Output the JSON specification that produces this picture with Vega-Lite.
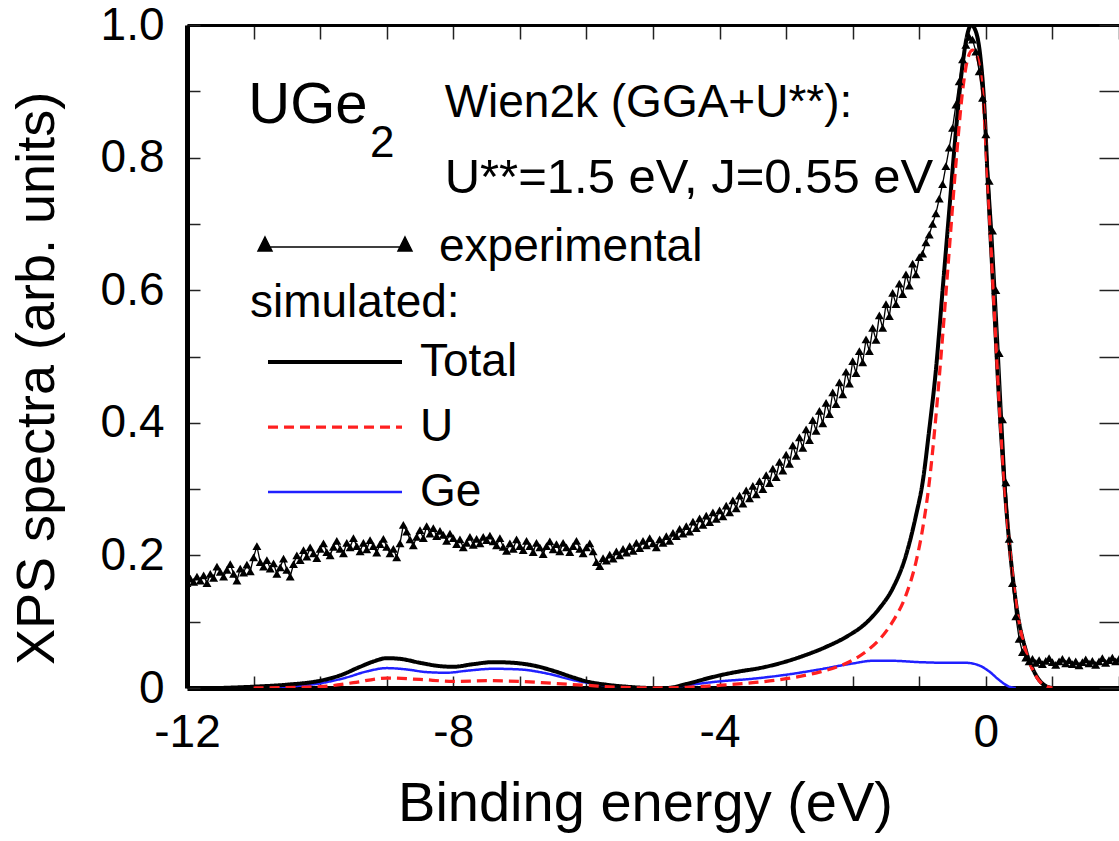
{
  "$schema": "https://vega.github.io/schema/vega-lite/v6.json",
  "autosize": {"type": "none"},
  "padding": {"left": 187, "top": 25, "right": 0, "bottom": 153},
  "width": 932,
  "height": 663,
  "background": "white",
  "config": {
    "view": {"stroke": null},
    "font": "Liberation Sans",
    "axis": {"grid": false, "labelFont": "Liberation Sans", "titleFont": "Liberation Sans", "labelColor": "black", "titleColor": "black", "titleFontWeight": "normal", "labelFlush": false, "labelOverlap": false, "domainColor": "black", "tickColor": "#222"}
  },
  "datasets": {
    "exp": [
      {"E":-12.00,"I":0.158},{"E":-11.95,"I":0.165},{"E":-11.90,"I":0.160},{"E":-11.85,"I":0.168},{"E":-11.80,"I":0.162},{"E":-11.75,"I":0.170},{"E":-11.70,"I":0.158},{"E":-11.65,"I":0.172},{"E":-11.60,"I":0.166},{"E":-11.55,"I":0.183},
      {"E":-11.50,"I":0.175},{"E":-11.45,"I":0.168},{"E":-11.40,"I":0.178},{"E":-11.35,"I":0.187},{"E":-11.30,"I":0.172},{"E":-11.25,"I":0.162},{"E":-11.20,"I":0.180},{"E":-11.15,"I":0.174},{"E":-11.10,"I":0.186},{"E":-11.05,"I":0.176},
      {"E":-11.00,"I":0.197},{"E":-10.95,"I":0.214},{"E":-10.90,"I":0.190},{"E":-10.85,"I":0.183},{"E":-10.80,"I":0.193},{"E":-10.75,"I":0.180},{"E":-10.70,"I":0.188},{"E":-10.65,"I":0.172},{"E":-10.60,"I":0.182},{"E":-10.55,"I":0.195},
      {"E":-10.50,"I":0.178},{"E":-10.45,"I":0.168},{"E":-10.40,"I":0.187},{"E":-10.35,"I":0.200},{"E":-10.30,"I":0.193},{"E":-10.25,"I":0.208},{"E":-10.20,"I":0.198},{"E":-10.15,"I":0.212},{"E":-10.10,"I":0.203},{"E":-10.05,"I":0.196},
      {"E":-10.00,"I":0.210},{"E":-9.95,"I":0.218},{"E":-9.90,"I":0.205},{"E":-9.85,"I":0.200},{"E":-9.80,"I":0.213},{"E":-9.75,"I":0.222},{"E":-9.70,"I":0.210},{"E":-9.65,"I":0.203},{"E":-9.60,"I":0.219},{"E":-9.55,"I":0.212},
      {"E":-9.50,"I":0.226},{"E":-9.45,"I":0.214},{"E":-9.40,"I":0.206},{"E":-9.35,"I":0.219},{"E":-9.30,"I":0.209},{"E":-9.25,"I":0.223},{"E":-9.20,"I":0.214},{"E":-9.15,"I":0.204},{"E":-9.10,"I":0.217},{"E":-9.05,"I":0.225},
      {"E":-9.00,"I":0.213},{"E":-8.95,"I":0.203},{"E":-8.90,"I":0.210},{"E":-8.85,"I":0.197},{"E":-8.80,"I":0.218},{"E":-8.75,"I":0.246},{"E":-8.70,"I":0.236},{"E":-8.65,"I":0.224},{"E":-8.60,"I":0.215},{"E":-8.55,"I":0.228},
      {"E":-8.50,"I":0.238},{"E":-8.45,"I":0.226},{"E":-8.40,"I":0.244},{"E":-8.35,"I":0.233},{"E":-8.30,"I":0.241},{"E":-8.25,"I":0.229},{"E":-8.20,"I":0.237},{"E":-8.15,"I":0.231},{"E":-8.10,"I":0.222},{"E":-8.05,"I":0.233},
      {"E":-8.00,"I":0.226},{"E":-7.95,"I":0.217},{"E":-7.90,"I":0.224},{"E":-7.85,"I":0.212},{"E":-7.80,"I":0.219},{"E":-7.75,"I":0.228},{"E":-7.70,"I":0.216},{"E":-7.65,"I":0.225},{"E":-7.60,"I":0.218},{"E":-7.55,"I":0.228},
      {"E":-7.50,"I":0.223},{"E":-7.45,"I":0.230},{"E":-7.40,"I":0.221},{"E":-7.35,"I":0.215},{"E":-7.30,"I":0.226},{"E":-7.25,"I":0.213},{"E":-7.20,"I":0.207},{"E":-7.15,"I":0.218},{"E":-7.10,"I":0.210},{"E":-7.05,"I":0.224},
      {"E":-7.00,"I":0.214},{"E":-6.95,"I":0.208},{"E":-6.90,"I":0.222},{"E":-6.85,"I":0.214},{"E":-6.80,"I":0.205},{"E":-6.75,"I":0.219},{"E":-6.70,"I":0.212},{"E":-6.65,"I":0.202},{"E":-6.60,"I":0.214},{"E":-6.55,"I":0.221},
      {"E":-6.50,"I":0.209},{"E":-6.45,"I":0.217},{"E":-6.40,"I":0.206},{"E":-6.35,"I":0.219},{"E":-6.30,"I":0.212},{"E":-6.25,"I":0.205},{"E":-6.20,"I":0.214},{"E":-6.15,"I":0.222},{"E":-6.10,"I":0.210},{"E":-6.05,"I":0.203},
      {"E":-6.00,"I":0.212},{"E":-5.95,"I":0.218},{"E":-5.90,"I":0.206},{"E":-5.85,"I":0.190},{"E":-5.80,"I":0.184},{"E":-5.75,"I":0.196},{"E":-5.70,"I":0.192},{"E":-5.65,"I":0.201},{"E":-5.60,"I":0.195},{"E":-5.55,"I":0.206},
      {"E":-5.50,"I":0.200},{"E":-5.45,"I":0.210},{"E":-5.40,"I":0.204},{"E":-5.35,"I":0.214},{"E":-5.30,"I":0.207},{"E":-5.25,"I":0.219},{"E":-5.20,"I":0.211},{"E":-5.15,"I":0.222},{"E":-5.10,"I":0.215},{"E":-5.05,"I":0.226},
      {"E":-5.00,"I":0.218},{"E":-4.95,"I":0.212},{"E":-4.90,"I":0.224},{"E":-4.85,"I":0.219},{"E":-4.80,"I":0.229},{"E":-4.75,"I":0.222},{"E":-4.70,"I":0.234},{"E":-4.65,"I":0.229},{"E":-4.60,"I":0.240},{"E":-4.55,"I":0.233},
      {"E":-4.50,"I":0.244},{"E":-4.45,"I":0.236},{"E":-4.40,"I":0.251},{"E":-4.35,"I":0.241},{"E":-4.30,"I":0.256},{"E":-4.25,"I":0.246},{"E":-4.20,"I":0.260},{"E":-4.15,"I":0.250},{"E":-4.10,"I":0.265},{"E":-4.05,"I":0.255},
      {"E":-4.00,"I":0.268},{"E":-3.95,"I":0.259},{"E":-3.90,"I":0.275},{"E":-3.85,"I":0.265},{"E":-3.80,"I":0.283},{"E":-3.75,"I":0.271},{"E":-3.70,"I":0.290},{"E":-3.65,"I":0.278},{"E":-3.60,"I":0.298},{"E":-3.55,"I":0.286},
      {"E":-3.50,"I":0.305},{"E":-3.45,"I":0.292},{"E":-3.40,"I":0.312},{"E":-3.35,"I":0.300},{"E":-3.30,"I":0.321},{"E":-3.25,"I":0.309},{"E":-3.20,"I":0.331},{"E":-3.15,"I":0.318},{"E":-3.10,"I":0.341},{"E":-3.05,"I":0.328},
      {"E":-3.00,"I":0.352},{"E":-2.95,"I":0.338},{"E":-2.90,"I":0.366},{"E":-2.85,"I":0.350},{"E":-2.80,"I":0.378},{"E":-2.75,"I":0.362},{"E":-2.70,"I":0.390},{"E":-2.65,"I":0.374},{"E":-2.60,"I":0.404},{"E":-2.55,"I":0.388},
      {"E":-2.50,"I":0.418},{"E":-2.45,"I":0.399},{"E":-2.40,"I":0.430},{"E":-2.35,"I":0.413},{"E":-2.30,"I":0.446},{"E":-2.25,"I":0.428},{"E":-2.20,"I":0.461},{"E":-2.15,"I":0.443},{"E":-2.10,"I":0.477},{"E":-2.05,"I":0.459},
      {"E":-2.00,"I":0.493},{"E":-1.95,"I":0.475},{"E":-1.90,"I":0.508},{"E":-1.85,"I":0.491},{"E":-1.80,"I":0.526},{"E":-1.75,"I":0.508},{"E":-1.70,"I":0.543},{"E":-1.65,"I":0.525},{"E":-1.60,"I":0.562},{"E":-1.55,"I":0.543},
      {"E":-1.50,"I":0.579},{"E":-1.45,"I":0.561},{"E":-1.40,"I":0.596},{"E":-1.35,"I":0.579},{"E":-1.30,"I":0.610},{"E":-1.25,"I":0.594},{"E":-1.20,"I":0.624},{"E":-1.15,"I":0.607},{"E":-1.10,"I":0.640},{"E":-1.05,"I":0.624},
      {"E":-1.00,"I":0.650},{"E":-0.95,"I":0.655},{"E":-0.90,"I":0.672},{"E":-0.85,"I":0.684},{"E":-0.80,"I":0.700},{"E":-0.75,"I":0.716},{"E":-0.70,"I":0.738},{"E":-0.65,"I":0.760},{"E":-0.60,"I":0.787},{"E":-0.55,"I":0.815},
      {"E":-0.50,"I":0.845},{"E":-0.45,"I":0.880},{"E":-0.40,"I":0.915},{"E":-0.35,"I":0.948},{"E":-0.30,"I":0.970},{"E":-0.25,"I":0.982},{"E":-0.20,"I":0.978},{"E":-0.15,"I":0.960},{"E":-0.10,"I":0.930},{"E":-0.05,"I":0.890},
      {"E":0.00,"I":0.835},{"E":0.05,"I":0.765},{"E":0.10,"I":0.690},{"E":0.15,"I":0.600},{"E":0.20,"I":0.505},{"E":0.25,"I":0.405},{"E":0.30,"I":0.310},{"E":0.35,"I":0.225},{"E":0.40,"I":0.158},{"E":0.45,"I":0.108},
      {"E":0.50,"I":0.074},{"E":0.55,"I":0.054},{"E":0.60,"I":0.046},{"E":0.65,"I":0.040},{"E":0.70,"I":0.044},{"E":0.75,"I":0.038},{"E":0.80,"I":0.042},{"E":0.85,"I":0.036},{"E":0.90,"I":0.041},{"E":0.95,"I":0.045},
      {"E":1.00,"I":0.039},{"E":1.05,"I":0.035},{"E":1.10,"I":0.040},{"E":1.15,"I":0.044},{"E":1.20,"I":0.037},{"E":1.25,"I":0.042},{"E":1.30,"I":0.036},{"E":1.35,"I":0.040},{"E":1.40,"I":0.034},{"E":1.45,"I":0.039},
      {"E":1.50,"I":0.043},{"E":1.55,"I":0.037},{"E":1.60,"I":0.041},{"E":1.65,"I":0.035},{"E":1.70,"I":0.040},{"E":1.75,"I":0.045},{"E":1.80,"I":0.038},{"E":1.85,"I":0.042},{"E":1.90,"I":0.046},{"E":1.95,"I":0.040},{"E":2.00,"I":0.044}
    ],
    "sim": [
      {"series":"Ge","E":-11,"I":0},{"series":"Ge","E":-10.5,"I":0.002},{"series":"Ge","E":-10,"I":0.007},{"series":"Ge","E":-9.6,"I":0.016},{"series":"Ge","E":-9.3,"I":0.025},{"series":"Ge","E":-9.0,"I":0.030},{"series":"Ge","E":-8.7,"I":0.028},{"series":"Ge","E":-8.4,"I":0.024},{"series":"Ge","E":-8.1,"I":0.023},{"series":"Ge","E":-7.8,"I":0.026},{"series":"Ge","E":-7.4,"I":0.029},{"series":"Ge","E":-7.0,"I":0.028},{"series":"Ge","E":-6.6,"I":0.022},{"series":"Ge","E":-6.2,"I":0.012},{"series":"Ge","E":-5.8,"I":0.005},{"series":"Ge","E":-5.4,"I":0.001},{"series":"Ge","E":-5,"I":0},{"series":"Ge","E":-4.8,"I":0},{"series":"Ge","E":-4.5,"I":0.004},{"series":"Ge","E":-4,"I":0.010},{"series":"Ge","E":-3.5,"I":0.014},{"series":"Ge","E":-3.0,"I":0.020},{"series":"Ge","E":-2.5,"I":0.028},{"series":"Ge","E":-2.0,"I":0.037},{"series":"Ge","E":-1.7,"I":0.041},{"series":"Ge","E":-1.4,"I":0.041},{"series":"Ge","E":-1.0,"I":0.039},{"series":"Ge","E":-0.6,"I":0.038},{"series":"Ge","E":-0.3,"I":0.038},{"series":"Ge","E":-0.1,"I":0.034},{"series":"Ge","E":0.05,"I":0.025},{"series":"Ge","E":0.2,"I":0.012},{"series":"Ge","E":0.35,"I":0.002},{"series":"Ge","E":0.45,"I":0},
      {"series":"Total","E":-11.5,"I":0},{"series":"Total","E":-11,"I":0.002},{"series":"Total","E":-10.5,"I":0.005},{"series":"Total","E":-10,"I":0.011},{"series":"Total","E":-9.7,"I":0.019},{"series":"Total","E":-9.4,"I":0.032},{"series":"Total","E":-9.2,"I":0.040},{"series":"Total","E":-9.0,"I":0.045},{"series":"Total","E":-8.8,"I":0.044},{"series":"Total","E":-8.5,"I":0.038},{"series":"Total","E":-8.2,"I":0.033},{"series":"Total","E":-8.0,"I":0.032},{"series":"Total","E":-7.7,"I":0.036},{"series":"Total","E":-7.4,"I":0.039},{"series":"Total","E":-7.1,"I":0.038},{"series":"Total","E":-6.8,"I":0.034},{"series":"Total","E":-6.5,"I":0.026},{"series":"Total","E":-6.2,"I":0.016},{"series":"Total","E":-6.0,"I":0.010},{"series":"Total","E":-5.7,"I":0.005},{"series":"Total","E":-5.4,"I":0.002},{"series":"Total","E":-5.0,"I":0},{"series":"Total","E":-4.8,"I":0},{"series":"Total","E":-4.5,"I":0.006},{"series":"Total","E":-4.2,"I":0.014},{"series":"Total","E":-4.0,"I":0.019},{"series":"Total","E":-3.7,"I":0.025},{"series":"Total","E":-3.4,"I":0.030},{"series":"Total","E":-3.0,"I":0.040},{"series":"Total","E":-2.7,"I":0.050},{"series":"Total","E":-2.4,"I":0.062},{"series":"Total","E":-2.1,"I":0.077},{"series":"Total","E":-1.8,"I":0.098},{"series":"Total","E":-1.6,"I":0.12},{"series":"Total","E":-1.4,"I":0.15},{"series":"Total","E":-1.2,"I":0.20},{"series":"Total","E":-1.05,"I":0.26},{"series":"Total","E":-0.95,"I":0.31},{"series":"Total","E":-0.85,"I":0.39},{"series":"Total","E":-0.75,"I":0.48},{"series":"Total","E":-0.65,"I":0.60},{"series":"Total","E":-0.55,"I":0.72},{"series":"Total","E":-0.45,"I":0.84},{"series":"Total","E":-0.35,"I":0.94},{"series":"Total","E":-0.28,"I":0.985},{"series":"Total","E":-0.22,"I":1.0},{"series":"Total","E":-0.15,"I":0.99},{"series":"Total","E":-0.08,"I":0.95},{"series":"Total","E":-0.03,"I":0.89},{"series":"Total","E":0.04,"I":0.74},{"series":"Total","E":0.12,"I":0.585},{"series":"Total","E":0.2,"I":0.43},{"series":"Total","E":0.3,"I":0.28},{"series":"Total","E":0.45,"I":0.13},{"series":"Total","E":0.6,"I":0.057},{"series":"Total","E":0.7,"I":0.03},{"series":"Total","E":0.8,"I":0.012},{"series":"Total","E":0.9,"I":0.003},{"series":"Total","E":1.0,"I":0},
      {"series":"U","E":-11,"I":0},{"series":"U","E":-10,"I":0.002},{"series":"U","E":-9.5,"I":0.008},{"series":"U","E":-9.0,"I":0.015},{"series":"U","E":-8.5,"I":0.013},{"series":"U","E":-8.0,"I":0.010},{"series":"U","E":-7.5,"I":0.011},{"series":"U","E":-7.0,"I":0.010},{"series":"U","E":-6.5,"I":0.007},{"series":"U","E":-6.0,"I":0.004},{"series":"U","E":-5.5,"I":0.001},{"series":"U","E":-5,"I":0},{"series":"U","E":-4.5,"I":0.001},{"series":"U","E":-4,"I":0.004},{"series":"U","E":-3.5,"I":0.008},{"series":"U","E":-3,"I":0.014},{"series":"U","E":-2.5,"I":0.024},{"series":"U","E":-2.2,"I":0.033},{"series":"U","E":-2.0,"I":0.042},{"series":"U","E":-1.8,"I":0.055},{"series":"U","E":-1.6,"I":0.073},{"series":"U","E":-1.4,"I":0.10},{"series":"U","E":-1.2,"I":0.14},{"series":"U","E":-1.05,"I":0.19},{"series":"U","E":-0.95,"I":0.24},{"series":"U","E":-0.85,"I":0.31},{"series":"U","E":-0.75,"I":0.41},{"series":"U","E":-0.65,"I":0.53},{"series":"U","E":-0.55,"I":0.66},{"series":"U","E":-0.45,"I":0.79},{"series":"U","E":-0.35,"I":0.90},{"series":"U","E":-0.27,"I":0.95},{"series":"U","E":-0.2,"I":0.962},{"series":"U","E":-0.13,"I":0.952},{"series":"U","E":-0.05,"I":0.90},{"series":"U","E":0.04,"I":0.74},{"series":"U","E":0.12,"I":0.58},{"series":"U","E":0.2,"I":0.43},{"series":"U","E":0.3,"I":0.28},{"series":"U","E":0.45,"I":0.13},{"series":"U","E":0.6,"I":0.055},{"series":"U","E":0.7,"I":0.028},{"series":"U","E":0.8,"I":0.011},{"series":"U","E":0.9,"I":0.003},{"series":"U","E":1.0,"I":0}
    ]
  },
  "data": {"values": [{}]},
  "layer": [
    {
      "data": {"name": "sim"},
      "mark": {"type": "line", "interpolate": "monotone", "clip": true},
      "encoding": {
        "x": {"field": "E", "type": "quantitative", "scale": {"domain": [-12, 2], "nice": false},
          "axis": {"orient": "bottom", "values": [-12,-11,-10,-9,-8,-7,-6,-5,-4,-3,-2,-1,0,1,2], "labelExpr": "datum.value % 4 == 0 ? toString(datum.value) : ''", "tickSize": -12, "tickWidth": 1.5, "domainWidth": 5, "labelFontSize": 46, "labelPadding": 34, "title": "Binding energy (eV)", "titleFontSize": 56, "titleX": 458, "titleY": 132, "titleBaseline": "alphabetic", "titleAlign": "center"}},
        "y": {"field": "I", "type": "quantitative", "scale": {"domain": [0, 1], "nice": false},
          "axis": {"orient": "left", "values": [0,0.1,0.2,0.3,0.4,0.5,0.6,0.7,0.8,0.9,1.0], "labelExpr": "datum.value == 0 ? '0' : (round(datum.value*10) % 2 == 0 ? format(datum.value, '.1f') : '')", "tickSize": -13, "tickWidth": 1.5, "domainWidth": 5, "labelFontSize": 46, "labelPadding": 36, "title": "XPS spectra (arb. units)", "titleFontSize": 54, "titleAngle": -90, "titleX": -134, "titleY": 353, "titleBaseline": "alphabetic", "titleAlign": "center"}},
        "stroke": {"field": "series", "type": "nominal", "scale": {"domain": ["Total", "U", "Ge"], "range": ["black", "#ff2020", "#2020ff"]},
          "legend": {"orient": "none", "legendX": 63, "legendY": 256, "title": "simulated:", "titleFont": "Liberation Sans", "titleFontSize": 46, "titleFontWeight": "normal", "titleColor": "black", "titlePadding": 12, "titleLimit": 1000, "labelLimit": 1000, "labelFont": "Liberation Sans", "labelFontSize": 46, "labelColor": "black", "symbolType": "M-0.5,0L12.9,0", "symbolSize": 400, "labelOffset": 124, "rowPadding": 19, "padding": 0}},
        "strokeDash": {"field": "series", "type": "nominal", "scale": {"domain": ["Total", "U", "Ge"], "range": [[1,0],[10,6],[1,0]]},
          "legend": {"orient": "none", "legendX": 63, "legendY": 256, "title": "simulated:", "titleFont": "Liberation Sans", "titleFontSize": 46, "titleFontWeight": "normal", "titleColor": "black", "titlePadding": 12, "titleLimit": 1000, "labelLimit": 1000, "labelFont": "Liberation Sans", "labelFontSize": 46, "labelColor": "black", "symbolType": "M-0.5,0L12.9,0", "symbolSize": 400, "labelOffset": 124, "rowPadding": 19, "padding": 0}},
        "strokeWidth": {"field": "series", "type": "nominal", "scale": {"domain": ["Total", "U", "Ge"], "range": [4, 2.5, 2]},
          "legend": {"orient": "none", "legendX": 63, "legendY": 256, "title": "simulated:", "titleFont": "Liberation Sans", "titleFontSize": 46, "titleFontWeight": "normal", "titleColor": "black", "titlePadding": 12, "titleLimit": 1000, "labelLimit": 1000, "labelFont": "Liberation Sans", "labelFontSize": 46, "labelColor": "black", "symbolType": "M-0.5,0L12.9,0", "symbolSize": 400, "labelOffset": 124, "rowPadding": 19, "padding": 0}}
      }
    },
    {
      "data": {"name": "exp"},
      "mark": {"type": "line", "color": "black", "strokeWidth": 1.3, "clip": true},
      "encoding": {
        "x": {"field": "E", "type": "quantitative", "axis": {"orient": "top", "values": [-12,-11,-10,-9,-8,-7,-6,-5,-4,-3,-2,-1,0,1,2], "labels": false, "tickSize": -14, "tickWidth": 1.5, "domainWidth": 3, "title": null}},
        "y": {"field": "I", "type": "quantitative", "axis": {"orient": "right", "values": [0,0.1,0.2,0.3,0.4,0.5,0.6,0.7,0.8,0.9,1.0], "labels": false, "tickSize": -20, "tickWidth": 1.5, "domain": false, "title": null}}
      }
    },
    {
      "data": {"name": "exp"},
      "mark": {"type": "point", "shape": "triangle-up", "filled": true, "size": 80, "opacity": 1, "clip": true},
      "encoding": {
        "x": {"field": "E", "type": "quantitative", "axis": null},
        "y": {"field": "I", "type": "quantitative", "axis": null},
        "fill": {"datum": "experimental", "scale": {"domain": ["experimental"], "range": ["black"]},
          "legend": {"orient": "none", "legendX": 63, "legendY": 199, "title": null, "labelLimit": 1000, "labelFont": "Liberation Sans", "labelFontSize": 46, "labelColor": "black", "symbolType": "M-0.8,0L13.2,0M-0.8,-1.0L-0.1,0.4L-1.5,0.4ZM13.2,-1.0L13.9,0.4L12.5,0.4Z", "symbolSize": 400, "symbolStrokeColor": "black", "symbolStrokeWidth": 1.5, "labelOffset": 143, "padding": 0}}
      }
    },
    {
      "mark": {"type": "text", "text": "UGe", "font": "Liberation Sans", "fontSize": 58, "align": "left", "baseline": "alphabetic", "color": "black"},
      "encoding": {"x": {"datum": -11.08, "type": "quantitative", "axis": null}, "y": {"datum": 0.852, "type": "quantitative", "axis": null}}
    },
    {
      "mark": {"type": "text", "text": "2", "font": "Liberation Sans", "fontSize": 44, "align": "left", "baseline": "alphabetic", "color": "black"},
      "encoding": {"x": {"datum": -9.25, "type": "quantitative", "axis": null}, "y": {"datum": 0.801, "type": "quantitative", "axis": null}}
    },
    {
      "mark": {"type": "text", "text": "Wien2k (GGA+U**):", "font": "Liberation Sans", "fontSize": 46, "align": "left", "baseline": "alphabetic", "color": "black"},
      "encoding": {"x": {"datum": -8.13, "type": "quantitative", "axis": null}, "y": {"datum": 0.861, "type": "quantitative", "axis": null}}
    },
    {
      "mark": {"type": "text", "text": "U**=1.5 eV, J=0.55 eV", "font": "Liberation Sans", "fontSize": 49, "align": "left", "baseline": "alphabetic", "color": "black"},
      "encoding": {"x": {"datum": -8.13, "type": "quantitative", "axis": null}, "y": {"datum": 0.746, "type": "quantitative", "axis": null}}
    }
  ]
}
